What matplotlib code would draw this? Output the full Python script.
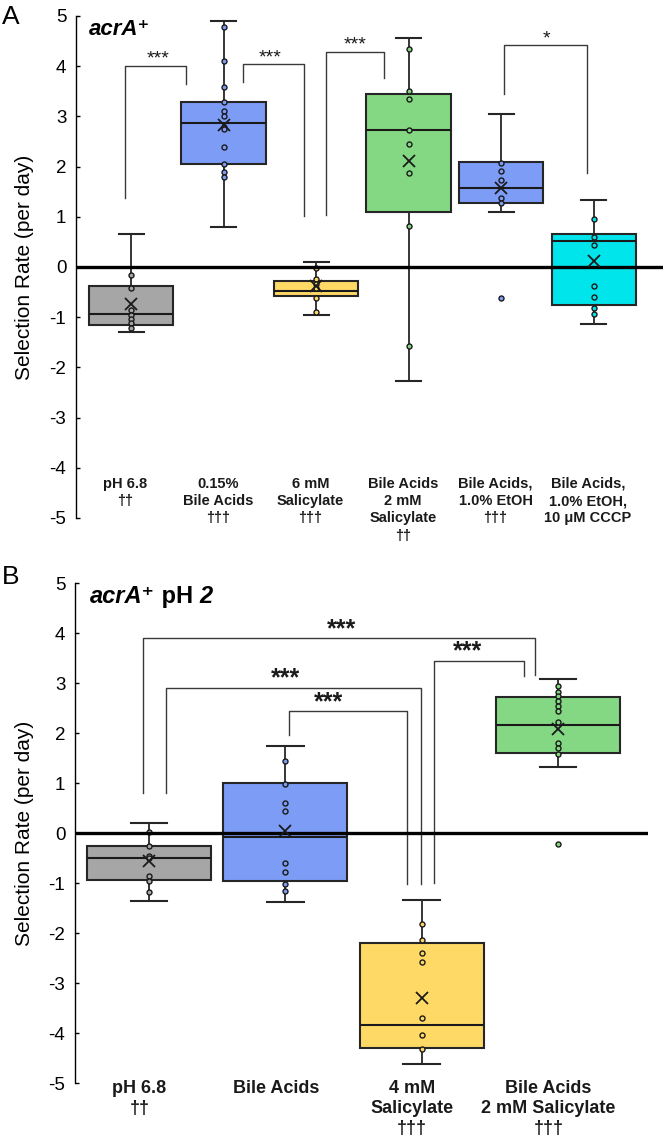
import matplotlib
matplotlib.use('Agg')
import matplotlib.pyplot as plt
from matplotlib.offsetbox import TextArea, HPacker, AnnotationBbox

plt.rcParams['font.family'] = ['Liberation Sans', 'DejaVu Sans']

# ---------------- Panel A data ----------------
a_labels = ["pH 6.8\n††", "0.15%\nBile Acids\n†††", "6 mM\nSalicylate\n†††",
            "Bile Acids\n2 mM\nSalicylate\n††", "Bile Acids,\n1.0% EtOH\n†††",
            "Bile Acids,\n1.0% EtOH,\n10 μM CCCP"]
a_colors = ['#a6a6a6', '#7c9cf6', '#ffd966', '#84d884', '#7c9cf6', '#00e4ec']
a_whislo = [-1.30, 0.80, -0.95, -2.27, 1.10, -1.13]
a_q1 = [-1.16, 2.06, -0.585, 1.09, 1.28, -0.76]
a_med = [-0.94, 2.87, -0.48, 2.73, 1.575, 0.52]
a_q3 = [-0.37, 3.29, -0.28, 3.45, 2.10, 0.65]
a_whishi = [0.665, 4.90, 0.10, 4.57, 3.04, 1.33]
a_mean = [-0.73, 2.83, -0.38, 2.11, 1.58, 0.12]
a_points = [
    [-0.15, -0.42, -0.86, -0.95, -1.03, -1.12, -1.21],
    [4.79, 4.10, 3.58, 3.28, 3.11, 3.01, 2.78, 2.74, 2.39, 2.06, 1.90, 1.79],
    [-0.02, -0.23, -0.33, -0.42, -0.61, -0.90],
    [4.34, 3.50, 3.34, 2.73, 2.45, 1.875, 0.82, -1.58],
    [2.07, 1.91, 1.73, 1.37, 1.28, -0.61],
    [0.96, 0.60, 0.43, -0.37, -0.59, -0.82, -0.93],
]
# brackets: x_left, y_left_end, x_right, y_right_end, y_top, star_x, label
a_brackets = [
    (0.935, 1.38, 1.59, 3.65, 4.01, 1.29, '***'),
    (2.214, 3.69, 2.87, 1.01, 4.04, 2.50, '***'),
    (3.105, 1.03, 3.735, 3.77, 4.29, 3.42, '***'),
    (5.036, 3.44, 5.93, 1.88, 4.42, 5.49, '*'),
]

# ---------------- Panel B data ----------------
b_labels = ["pH 6.8\n††", "Bile Acids", "4 mM\nSalicylate\n†††",
            "Bile Acids\n2 mM Salicylate\n†††"]
b_colors = ['#a6a6a6', '#7c9cf6', '#ffd966', '#84d884']
b_whislo = [-1.35, -1.38, -4.61, 1.33]
b_q1 = [-0.93, -0.96, -4.30, 1.60]
b_med = [-0.49, -0.08, -3.84, 2.17]
b_q3 = [-0.25, 1.00, -2.20, 2.73]
b_whishi = [0.20, 1.75, -1.33, 3.08]
b_mean = [-0.56, 0.04, -3.29, 2.08]
b_points = [
    [0.03, -0.26, -0.45, -0.50, -0.85, -0.95, -1.17],
    [1.45, 0.98, 0.61, 0.45, -0.60, -0.77, -1.01, -1.15],
    [-1.81, -2.14, -2.40, -2.58, -3.69, -4.03, -4.32],
    [2.95, 2.83, 2.74, 2.64, 2.55, 2.45, 2.23, 1.80, 1.70, 1.58, -0.21],
]
b_brackets = [
    (0.956, 0.81, 3.83, 3.17, 3.90, 2.41, '***'),
    (1.122, 0.81, 2.996, -1.02, 2.91, 2.00, '***'),
    (2.024, 1.96, 2.89, -1.02, 2.44, 2.32, '***'),
    (3.09, -1.00, 3.75, 3.15, 3.45, 3.34, '***'),
]

yticks = [-5, -4, -3, -2, -1, 0, 1, 2, 3, 4, 5]

fig = plt.figure(figsize=(6.66, 11.38), dpi=100)
axA = fig.add_axes([76 / 666, 1 - 518 / 1138, (663 - 76) / 666, 502 / 1138])
axB = fig.add_axes([75 / 666, 1 - 1083.3 / 1138, (648 - 75) / 666, 500 / 1138])

lab_font = ['Liberation Sans', 'DejaVu Sans']


def draw_panel(ax, labels, colors, whislo, q1, med, q3, whishi, mean, points,
               brackets, xlim, star_size, star_weight, label_size, label_top,
               label_dx, label_ls):
    n = len(labels)
    pos = list(range(1, n + 1))
    stats = []
    for i in range(n):
        stats.append(dict(whislo=whislo[i], q1=q1[i], med=med[i], q3=q3[i],
                          whishi=whishi[i], mean=mean[i], fliers=[]))
    bp = ax.bxp(stats, positions=pos, widths=0.91, capwidths=0.27,
                patch_artist=True, showmeans=False, showfliers=False,
                boxprops=dict(edgecolor='#262626', linewidth=1.5),
                medianprops=dict(color='#1a1a1a', linewidth=1.5),
                whiskerprops=dict(color='#262626', linewidth=1.3),
                capprops=dict(color='#262626', linewidth=1.5),
                manage_ticks=False)
    for patch, c in zip(bp['boxes'], colors):
        patch.set_facecolor(c)
    for i in range(n):
        ax.plot([pos[i]] * len(points[i]), points[i], 'o', ms=3.6,
                mfc=colors[i], mec='#1a1a1a', mew=1.0, zorder=4, clip_on=False)
        ax.plot(pos[i], mean[i], 'x', ms=8.5, mec='#1a1a1a', mew=1.3, zorder=6)
    ax.axhline(0, color='black', lw=2.4, zorder=5)
    for (xl, yl, xr, yr, yt, sx, lab) in brackets:
        ax.plot([xl, xl, xr, xr], [yl, yt, yt, yr], color='#3a3a3a', lw=1.0,
                zorder=3)
        ax.text(sx, yt + 0.04, lab, ha='center', va='baseline',
                fontsize=star_size, fontweight=star_weight, color='#1a1a1a')
    for i in range(n):
        ax.text(pos[i] + label_dx, label_top, labels[i], ha='center', va='top',
                fontsize=label_size, fontweight='bold', family=lab_font,
                linespacing=label_ls, clip_on=False, color='#1a1a1a')
    ax.set_xlim(*xlim)
    ax.set_ylim(-5, 5)
    ax.set_yticks(yticks)
    ax.set_yticklabels([str(t) for t in yticks])
    ax.set_xticks([])
    for s in ['top', 'right', 'bottom']:
        ax.spines[s].set_visible(False)
    ax.spines['left'].set_linewidth(1.0)
    ax.tick_params(axis='y', direction='in', length=3, width=1.0,
                   labelsize=13.5, pad=7)
    ax.set_ylabel('Selection Rate (per day)', fontsize=15, va='center')


draw_panel(axA, a_labels, a_colors, a_whislo, a_q1, a_med, a_q3, a_whishi,
           a_mean, a_points, a_brackets, (0.405, 6.75), 14, 'normal', 10.5,
           -4.18, -0.06, 1.3)
draw_panel(axB, b_labels, b_colors, b_whislo, b_q1, b_med, b_q3, b_whishi,
           b_mean, b_points, b_brackets, (0.458, 4.66), 18, 'bold', 13,
           -4.93, -0.07, 1.25)

axA.yaxis.set_label_coords((25 - 76) / 587, 0.5)
axB.yaxis.set_label_coords((25 - 75) / 573, 0.5)

# titles
tA = TextArea('acrA⁺', textprops=dict(fontsize=16, fontweight='bold',
                                        fontstyle='italic'))
abA = AnnotationBbox(tA, (0.546, 4.74), xycoords='data', box_alignment=(0, 0.5),
                     frameon=False, pad=0)
axA.add_artist(abA)

tB = HPacker(children=[
    TextArea('acrA⁺', textprops=dict(fontsize=17, fontweight='bold',
                                     fontstyle='italic')),
    TextArea(' pH ', textprops=dict(fontsize=17, fontweight='bold')),
    TextArea('2', textprops=dict(fontsize=17, fontweight='bold',
                                 fontstyle='italic')),
], align='baseline', pad=0, sep=0)
abB = AnnotationBbox(tB, (0.568, 4.74), xycoords='data', box_alignment=(0, 0.5),
                     frameon=False, pad=0)
axB.add_artist(abB)

fig.text(2 / 666, 1 - 17 / 1138, 'A', fontsize=19, ha='left', va='center')
fig.text(2 / 666, 1 - 577 / 1138, 'B', fontsize=19, ha='left', va='center')

fig.savefig('out.png', dpi=100)
